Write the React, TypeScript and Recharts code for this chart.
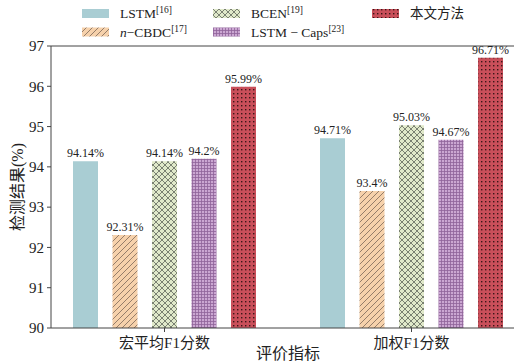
import React from "react";
import {
    BarChart,
    Bar,
    XAxis,
    YAxis,
    LabelList,
    ReferenceLine
} from "recharts";

const FONT = "'Liberation Serif', 'Noto Sans CJK SC', serif";

// evaluation metrics on the x axis
const categories = ["宏平均F1分数", "加权F1分数"];

// detection results (%) per method
const lstm = [94.14, 94.71];
const ncbdc = [92.31, 93.4];
const bcen = [94.14, 95.03];
const lstmCaps = [94.2, 94.67];
const ours = [95.99, 96.71];

const yTicks = [90, 91, 92, 93, 94, 95, 96, 97];

const series = [
    { key: "lstm", values: lstm, fill: "#a9cdd3" },
    { key: "ncbdc", values: ncbdc, fill: "url(#hatchPeach)" },
    { key: "bcen", values: bcen, fill: "url(#crossGreen)" },
    { key: "caps", values: lstmCaps, fill: "url(#gridPurple)" },
    { key: "ours", values: ours, fill: "url(#dotsRed)" }
];

const data = categories.map((category, i) => {
    const row: Record<string, string | number> = { category };
    series.forEach(s => {
        row[s.key] = s.values[i];
    });
    return row;
});

/** Fill patterns shared by the bars and the legend swatches */
const Patterns: React.FC = () => (
    <defs>
        <pattern id="hatchPeach" width="6" height="6" patternUnits="userSpaceOnUse">
            <rect width="6" height="6" fill="#f6d1ab" />
            <path
                d="M0,6 L6,0 M-1,1 L1,-1 M5,7 L7,5"
                stroke="#8a7462"
                strokeWidth="0.9"
            />
        </pattern>
        <pattern id="crossGreen" width="6" height="6" patternUnits="userSpaceOnUse">
            <rect width="6" height="6" fill="#e0e9ca" />
            <path
                d="M0,0 L6,6 M0,6 L6,0"
                stroke="#6d7466"
                strokeWidth="0.9"
            />
        </pattern>
        <pattern id="gridPurple" width="3" height="3" patternUnits="userSpaceOnUse">
            <rect width="3" height="3" fill="#cba7d2" />
            <path d="M0.5,0 L0.5,3 M0,0.5 L3,0.5" stroke="#8f6399" strokeWidth="0.8" />
        </pattern>
        <pattern id="dotsRed" width="4" height="4" patternUnits="userSpaceOnUse">
            <rect width="4" height="4" fill="#c94f5a" />
            <rect x="1" y="1" width="1.4" height="1.4" fill="#3a1417" />
        </pattern>
    </defs>
);

/** Legend drawn in two rows above the plot */
const LegendBox: React.FC = () => {
    const cols = [82, 213, 372];
    const rows = [13.5, 32];
    const entries = [
        { fill: series[0].fill, col: 0, row: 0, label: <tspan>LSTM</tspan>, sup: "[16]" },
        {
            fill: series[1].fill,
            col: 0,
            row: 1,
            label: (
                <>
                    <tspan fontStyle="italic">n</tspan>
                    <tspan>−CBDC</tspan>
                </>
            ),
            sup: "[17]"
        },
        { fill: series[2].fill, col: 1, row: 0, label: <tspan>BCEN</tspan>, sup: "[19]" },
        { fill: series[3].fill, col: 1, row: 1, label: <tspan>LSTM − Caps</tspan>, sup: "[23]" },
        { fill: series[4].fill, col: 2, row: 0, label: <tspan>本文方法</tspan>, sup: "" }
    ];
    return (
        <svg
            width={514}
            height={42}
            style={{ position: "absolute", left: 0, top: 0 }}
        >
            <Patterns />
            {entries.map((e, i) => {
                const x = cols[e.col];
                const y = rows[e.row];
                return (
                    <g key={i}>
                        <rect x={x} y={y - 4.5} width={27} height={9} fill={e.fill} />
                        <text
                            x={x + 38}
                            y={y + 4.5}
                            fontSize={13.5}
                            fontFamily={FONT}
                            fill="#222"
                        >
                            {e.label}
                            {e.sup && (
                                <tspan dy={-5} fontSize={9.5}>
                                    {e.sup}
                                </tspan>
                            )}
                        </text>
                    </g>
                );
            })}
        </svg>
    );
};

/** Rotated y axis title */
const YTitle = (props: any) => {
    const vb = props.viewBox || { x: 0, y: 46, height: 282 };
    const cx = vb.x + 17;
    const cy = vb.y + vb.height / 2;
    return (
        <text
            x={cx}
            y={cy}
            transform={`rotate(-90 ${cx} ${cy})`}
            textAnchor="middle"
            dominantBaseline="central"
            fontSize={16}
            fontFamily={FONT}
            fill="#222"
        >
            检测结果(%)
        </text>
    );
};

export default function App() {
    const axisColor = "#444";
    const tickStyle = { fontSize: 15, fontFamily: FONT, fill: "#222" };
    return (
        <div
            style={{
                position: "fixed",
                left: 0,
                top: 0,
                width: 514,
                height: 362,
                overflow: "hidden",
                background: "#fff"
            }}
        >
            <BarChart
                width={540}
                height={362}
                data={data}
                margin={{ top: 46, right: 15, bottom: 0, left: 0 }}
                barSize={25}
                barGap={14.5}
            >
                <XAxis
                    dataKey="category"
                    height={34}
                    padding={{ left: -10, right: -10 }}
                    stroke={axisColor}
                    tickLine={{ stroke: axisColor }}
                    tickSize={4}
                    tickMargin={5}
                    tick={tickStyle}
                    label={{
                        value: "评价指标",
                        position: "insideBottom",
                        offset: 3,
                        fontSize: 16,
                        fontFamily: FONT,
                        fill: "#222"
                    }}
                />
                <YAxis
                    width={51}
                    domain={[90, 97]}
                    ticks={yTicks}
                    stroke={axisColor}
                    tickLine={{ stroke: axisColor }}
                    tickSize={4}
                    tickMargin={3}
                    tick={tickStyle}
                    label={<YTitle />}
                />
                <ReferenceLine y={97} stroke={axisColor} ifOverflow="visible" />
                {series.map(s => (
                    <Bar
                        key={s.key}
                        dataKey={s.key}
                        fill={s.fill}
                        isAnimationActive={false}
                    >
                        <LabelList
                            dataKey={s.key}
                            position="top"
                            offset={4}
                            formatter={(v: any) => `${v}%`}
                            style={{ fontSize: 12, fontFamily: FONT, fill: "#222" }}
                        />
                    </Bar>
                ))}
            </BarChart>
            <LegendBox />
        </div>
    );
}
